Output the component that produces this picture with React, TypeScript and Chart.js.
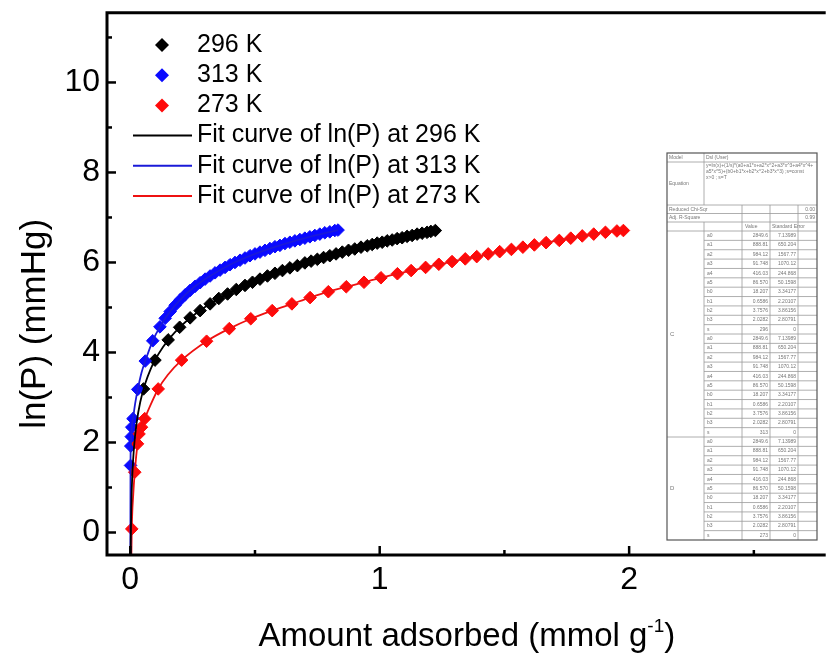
import React, { useEffect, useRef } from "react";
import { Chart, registerables } from "chart.js";
Chart.register(...registerables);

const FONT = "'Liberation Sans', Arial, Helvetica, sans-serif";

// ---- data: 296 K ----
const x296 = [0.053, 0.099, 0.152, 0.198, 0.24, 0.28, 0.32, 0.355, 0.39, 0.425, 0.46, 0.49, 0.52, 0.55, 0.58, 0.61, 0.64, 0.67, 0.70, 0.725, 0.75, 0.775, 0.80, 0.825, 0.85, 0.875, 0.90, 0.925, 0.95, 0.97, 0.99, 1.01, 1.03, 1.05, 1.07, 1.09, 1.11, 1.13, 1.15, 1.17, 1.19, 1.205, 1.223];
const y296 = [3.19, 3.83, 4.28, 4.56, 4.77, 4.93, 5.08, 5.20, 5.30, 5.40, 5.49, 5.56, 5.63, 5.70, 5.76, 5.82, 5.88, 5.93, 5.99, 6.03, 6.07, 6.11, 6.15, 6.19, 6.23, 6.27, 6.30, 6.34, 6.37, 6.40, 6.43, 6.45, 6.48, 6.50, 6.53, 6.55, 6.58, 6.60, 6.63, 6.65, 6.67, 6.69, 6.71];
// ---- data: 313 K ----
const x313 = [0.001, 0.002, 0.004, 0.006, 0.011, 0.03, 0.06, 0.09, 0.119, 0.14, 0.16, 0.18, 0.20, 0.22, 0.24, 0.26, 0.28, 0.30, 0.32, 0.34, 0.36, 0.38, 0.40, 0.42, 0.44, 0.46, 0.48, 0.50, 0.52, 0.54, 0.56, 0.58, 0.60, 0.62, 0.64, 0.66, 0.68, 0.70, 0.72, 0.74, 0.76, 0.78, 0.80, 0.82, 0.833];
const y313 = [1.49, 1.92, 2.13, 2.34, 2.53, 3.18, 3.81, 4.26, 4.57, 4.76, 4.91, 5.05, 5.17, 5.28, 5.38, 5.47, 5.55, 5.63, 5.70, 5.77, 5.83, 5.89, 5.95, 6.00, 6.05, 6.10, 6.15, 6.19, 6.23, 6.27, 6.31, 6.35, 6.38, 6.42, 6.45, 6.48, 6.51, 6.54, 6.57, 6.60, 6.63, 6.66, 6.68, 6.71, 6.72];
// ---- data: 273 K ----
const x273 = [0.006, 0.018, 0.029, 0.035, 0.045, 0.058, 0.112, 0.206, 0.306, 0.397, 0.483, 0.569, 0.648, 0.721, 0.794, 0.866, 0.937, 1.005, 1.071, 1.126, 1.184, 1.237, 1.29, 1.343, 1.389, 1.435, 1.481, 1.528, 1.574, 1.62, 1.667, 1.72, 1.766, 1.812, 1.858, 1.905, 1.951, 1.977];
const y273 = [0.08, 1.34, 1.97, 2.19, 2.34, 2.53, 3.19, 3.83, 4.25, 4.53, 4.75, 4.93, 5.08, 5.22, 5.35, 5.46, 5.56, 5.66, 5.75, 5.82, 5.89, 5.96, 6.02, 6.08, 6.13, 6.19, 6.24, 6.29, 6.34, 6.39, 6.44, 6.49, 6.54, 6.59, 6.63, 6.67, 6.70, 6.71];

// ---- fit curves ----
const fitX296 = [0.0012, 0.002, 0.004, 0.008, 0.015, 0.025, 0.04, 0.06, 0.08, 0.1, 0.13, 0.16, 0.2, 0.25, 0.3, 0.4, 0.5, 0.6, 0.7, 0.8, 0.9, 1.0, 1.1, 1.223];
const fitY296 = [-0.65, -0.14, 0.56, 1.26, 1.90, 2.42, 2.90, 3.31, 3.61, 3.84, 4.11, 4.33, 4.57, 4.81, 5.01, 5.33, 5.59, 5.80, 5.99, 6.15, 6.30, 6.44, 6.57, 6.71];
const fitX313 = [0.0004, 0.001, 0.002, 0.004, 0.006, 0.011, 0.02, 0.03, 0.045, 0.06, 0.09, 0.12, 0.16, 0.2, 0.26, 0.32, 0.4, 0.5, 0.6, 0.7, 0.833];
const fitY313 = [-0.7, 1.49, 1.92, 2.13, 2.34, 2.53, 2.88, 3.18, 3.55, 3.81, 4.26, 4.58, 4.91, 5.17, 5.47, 5.70, 5.95, 6.19, 6.38, 6.54, 6.72];
const fitX273 = [0.004, 0.006, 0.012, 0.018, 0.029, 0.035, 0.045, 0.058, 0.08, 0.112, 0.15, 0.206, 0.306, 0.397, 0.483, 0.569, 0.648, 0.721, 0.794, 0.866, 0.937, 1.005, 1.071, 1.184, 1.29, 1.389, 1.481, 1.574, 1.667, 1.766, 1.858, 1.951, 1.977];
const fitY273 = [-0.7, 0.08, 0.85, 1.34, 1.97, 2.19, 2.34, 2.53, 2.82, 3.19, 3.50, 3.83, 4.25, 4.53, 4.75, 4.93, 5.08, 5.22, 5.35, 5.46, 5.56, 5.66, 5.75, 5.89, 6.02, 6.13, 6.24, 6.34, 6.44, 6.54, 6.63, 6.70, 6.71];

const seriesLabels = ["296 K", "313 K", "273 K"];
const fitLabels = ["Fit curve of ln(P) at 296 K", "Fit curve of ln(P) at 313 K", "Fit curve of ln(P) at 273 K"];
const seriesColors = ["#000000", "#0a0aff", "#ff0a0a"];
const fitColors = ["#000000", "#1a1ad8", "#ee1111"];

const xTickValues = [0, 1, 2];
const xTickLabels = ["0", "1", "2"];
const xMinorTicks = [0.5, 1.5, 2.5];
const yTickValues = [0, 2, 4, 6, 8, 10];
const yTickLabels = ["0", "2", "4", "6", "8", "10"];
const yMinorTicks = [1, 3, 5, 7, 9, 11];

const xTitleMain = "Amount adsorbed (mmol g";
const xTitleSup = "-1";
const xTitleEnd = ")";
const yTitle = "ln(P) (mmHg)";

// ---- inset fit report table ----
const tableModel = ["Model", "Dsl (User)"];
const tableEquationLabel = "Equation";
const tableEquation = [
  "y=ln(x)+(1/s)*(a0+a1*x+a2*x^2+a3*x^3+a4*x^4+",
  "a5*x^5)+(b0+b1*x+b2*x^2+b3*x^3) ;s=const",
  "x>0 ; s=T",
];
const tableStatLabels = ["Reduced Chi-Sqr", "Adj. R-Square"];
const tableStatValues = ["0.00", "0.99"];
const tableColHeaders = ["Value", "Standard Error"];
const paramNames = ["a0", "a1", "a2", "a3", "a4", "a5", "b0", "b1", "b2", "b3", "s"];
const paramValues = ["2849.6", "888.81", "984.12", "91.748", "416.03", "86.570", "18.207", "0.6586", "3.7576", "2.0282"];
const paramErrors = ["7.13989", "650.204", "1567.77", "1070.12", "244.868", "50.1598", "3.34177", "2.20107", "3.86156", "2.80791", "0"];
const groupTemps = ["296", "313", "273"];
const groupLabels = ["C", "D"];

const zip = (xs: number[], ys: number[]) => xs.map((x, i) => ({ x, y: ys[i] }));

function diamond(ctx: CanvasRenderingContext2D, cx: number, cy: number, r: number) {
  ctx.beginPath();
  ctx.moveTo(cx - r, cy);
  ctx.lineTo(cx, cy - r);
  ctx.lineTo(cx + r, cy);
  ctx.lineTo(cx, cy + r);
  ctx.closePath();
  ctx.fill();
}

function drawTable(ctx: CanvasRenderingContext2D) {
  const L = 667, T = 153, R = 817, B = 540;
  const c1 = 704, c2 = 742, c3 = 770, c4 = 798;
  const rEq = 162, rStat1 = 205, rStat2 = 213.5, rHead = 222, rData = 231;
  ctx.save();
  ctx.fillStyle = "#ffffff";
  ctx.fillRect(L, T, R - L, B - T);
  ctx.strokeStyle = "#9a9a9a";
  ctx.lineWidth = 0.8;
  const hl = (x1: number, x2: number, y: number) => { ctx.beginPath(); ctx.moveTo(x1, y); ctx.lineTo(x2, y); ctx.stroke(); };
  const vl = (x: number, y1: number, y2: number) => { ctx.beginPath(); ctx.moveTo(x, y1); ctx.lineTo(x, y2); ctx.stroke(); };
  hl(L, R, rEq); hl(L, R, rStat1); hl(L, R, rStat2); hl(L, R, rHead); hl(L, R, rData);
  vl(c1, T, rStat1); vl(c1, rHead, B);
  vl(c2, rStat1, B); vl(c3, rStat1, B); vl(c4, rStat1, B);
  const nRows = paramNames.length * groupTemps.length;
  const rh = (B - rData) / nRows;
  for (let i = 1; i < nRows; i++) {
    const y = rData + i * rh;
    if (i === paramNames.length * 2) hl(L, R, y); else hl(c1, R, y);
  }
  ctx.strokeStyle = "#555";
  ctx.lineWidth = 1.2;
  ctx.strokeRect(L, T, R - L, B - T);

  ctx.fillStyle = "#777";
  ctx.font = `5px ${FONT}`;
  ctx.textBaseline = "middle";
  ctx.textAlign = "left";
  ctx.fillText(tableModel[0], L + 2, (T + rEq) / 2);
  ctx.fillText(tableModel[1], c1 + 2, (T + rEq) / 2);
  ctx.fillText(tableEquationLabel, L + 2, (rEq + rStat1) / 2);
  tableEquation.forEach((s, i) => ctx.fillText(s, c1 + 2, rEq + 4 + i * 6, R - c1 - 4));
  tableStatLabels.forEach((s, i) => {
    const y = i === 0 ? (rStat1 + rStat2) / 2 : (rStat2 + rHead) / 2;
    ctx.textAlign = "left";
    ctx.fillText(s, L + 2, y);
    ctx.textAlign = "right";
    ctx.fillText(tableStatValues[i], R - 2, y);
  });
  ctx.textAlign = "left";
  ctx.fillText(tableColHeaders[0], c2 + 3, (rHead + rData) / 2);
  ctx.fillText(tableColHeaders[1], c3 + 2, (rHead + rData) / 2);
  groupTemps.forEach((temp, g) => {
    paramNames.forEach((p, k) => {
      const row = g * paramNames.length + k;
      const y = rData + (row + 0.5) * rh;
      ctx.textAlign = "left";
      ctx.fillText(p, c1 + 3, y);
      ctx.textAlign = "right";
      ctx.fillText(k < paramValues.length ? paramValues[k] : temp, c3 - 2, y);
      ctx.fillText(paramErrors[k], c4 - 2, y);
    });
  });
  ctx.textAlign = "left";
  ctx.font = `6px ${FONT}`;
  ctx.fillText(groupLabels[0], L + 3, rData + paramNames.length * rh);
  ctx.fillText(groupLabels[1], L + 3, rData + paramNames.length * 2.5 * rh);
  ctx.restore();
}

const decorPlugin = {
  id: "decor",
  afterDraw(chart: any) {
    const { ctx, chartArea: ca, scales } = chart;
    const xs = scales.x, ys = scales.y;
    ctx.save();
    // frame
    ctx.strokeStyle = "#000";
    ctx.lineWidth = 3;
    ctx.beginPath();
    ctx.moveTo(ca.right + 5, ca.top);
    ctx.lineTo(ca.left, ca.top);
    ctx.lineTo(ca.left, ca.bottom);
    ctx.lineTo(ca.right + 5, ca.bottom);
    ctx.stroke();
    // inward ticks
    ctx.lineWidth = 2.5;
    const tick = (x1: number, y1: number, x2: number, y2: number) => { ctx.beginPath(); ctx.moveTo(x1, y1); ctx.lineTo(x2, y2); ctx.stroke(); };
    xTickValues.forEach(v => { const p = xs.getPixelForValue(v); tick(p, ca.bottom, p, ca.bottom - 9); });
    xMinorTicks.forEach(v => { const p = xs.getPixelForValue(v); tick(p, ca.bottom, p, ca.bottom - 5); });
    yTickValues.forEach(v => { const p = ys.getPixelForValue(v); tick(ca.left, p, ca.left + 9, p); });
    yMinorTicks.forEach(v => { const p = ys.getPixelForValue(v); tick(ca.left, p, ca.left + 5, p); });

    // axis titles
    ctx.fillStyle = "#000";
    ctx.font = `33px ${FONT}`;
    ctx.textBaseline = "alphabetic";
    ctx.textAlign = "left";
    const wMain = ctx.measureText(xTitleMain).width;
    ctx.font = `19px ${FONT}`;
    const wSup = ctx.measureText(xTitleSup).width;
    ctx.font = `33px ${FONT}`;
    const wEnd = ctx.measureText(xTitleEnd).width;
    const total = wMain + wSup + wEnd;
    const cx = (ca.left + ca.right) / 2 + 3;
    let x0 = cx - total / 2;
    const base = 646;
    ctx.fillText(xTitleMain, x0, base);
    ctx.font = `19px ${FONT}`;
    ctx.fillText(xTitleSup, x0 + wMain, base - 14);
    ctx.font = `33px ${FONT}`;
    ctx.fillText(xTitleEnd, x0 + wMain + wSup, base);

    ctx.save();
    ctx.translate(35, (ca.top + ca.bottom) / 2 + 40);
    ctx.rotate(-Math.PI / 2);
    ctx.font = `35px ${FONT}`;
    ctx.textAlign = "center";
    ctx.textBaseline = "middle";
    ctx.fillText(yTitle, 0, 0);
    ctx.restore();

    // legend
    ctx.font = `25px ${FONT}`;
    ctx.textAlign = "left";
    ctx.textBaseline = "middle";
    const legTop = 45, legStep = 30.2;
    seriesLabels.forEach((lab, i) => {
      const y = legTop + i * legStep;
      ctx.fillStyle = seriesColors[i];
      diamond(ctx, 162, y, 7);
      ctx.fillStyle = "#000";
      ctx.fillText(lab, 197, y);
    });
    fitLabels.forEach((lab, i) => {
      const y = legTop + (i + 3) * legStep;
      ctx.strokeStyle = fitColors[i];
      ctx.lineWidth = 2;
      tick(133, y, 192, y);
      ctx.fillStyle = "#000";
      ctx.fillText(lab, 197, y);
    });
    ctx.restore();

    drawTable(ctx);
  },
};

export default function App() {
  const ref = useRef<HTMLCanvasElement | null>(null);
  useEffect(() => {
    if (!ref.current) return;
    const pointDs = (i: number, xs: number[], ys: number[], order: number) => ({
      label: seriesLabels[i],
      data: zip(xs, ys),
      showLine: false,
      pointStyle: "rectRot",
      pointRadius: 6.3,
      pointBorderWidth: 1,
      backgroundColor: seriesColors[i],
      borderColor: seriesColors[i],
      order,
    });
    const fitDs = (i: number, xs: number[], ys: number[]) => ({
      label: fitLabels[i],
      data: zip(xs, ys),
      showLine: true,
      pointRadius: 0,
      borderWidth: 1.8,
      borderColor: fitColors[i],
      backgroundColor: fitColors[i],
      cubicInterpolationMode: "monotone",
      order: 0,
    });
    const chart = new Chart(ref.current, {
      type: "scatter",
      data: {
        datasets: [
          pointDs(0, x296, y296, 3),
          pointDs(1, x313, y313, 2),
          pointDs(2, x273, y273, 1),
          fitDs(0, fitX296, fitY296),
          fitDs(1, fitX313, fitY313),
          fitDs(2, fitX273, fitY273),
        ] as any,
      },
      options: {
        animation: false,
        responsive: false,
        events: [],
        layout: { padding: { top: 12.7, left: 0, right: 0, bottom: 0 } },
        plugins: { legend: { display: false }, tooltip: { enabled: false } },
        scales: {
          x: {
            type: "linear",
            min: -0.0933,
            max: 2.768,
            grid: { display: false, drawTicks: false },
            border: { display: false },
            ticks: {
              includeBounds: false,
              color: "#000",
              font: { family: FONT, size: 32 },
              padding: 6,
              callback: (v: any) => { const i = xTickValues.indexOf(Number(v)); return i >= 0 ? xTickLabels[i] : ""; },
            },
            afterBuildTicks: (s: any) => { s.ticks = xTickValues.map(v => ({ value: v })); },
            afterFit: (s: any) => { s.height = 100; s.paddingLeft = 0; s.paddingRight = 0; },
          },
          y: {
            type: "linear",
            min: -0.5,
            max: 11.55,
            grid: { display: false, drawTicks: false },
            border: { display: false },
            ticks: {
              includeBounds: false,
              color: "#000",
              font: { family: FONT, size: 32 },
              padding: 7,
              callback: (v: any) => { const i = yTickValues.indexOf(Number(v)); return i >= 0 ? yTickLabels[i] : ""; },
            },
            afterBuildTicks: (s: any) => { s.ticks = yTickValues.map(v => ({ value: v })); },
            afterFit: (s: any) => { s.width = 107; s.paddingTop = 0; s.paddingBottom = 0; },
          },
        },
      } as any,
      plugins: [decorPlugin],
    });
    return () => chart.destroy();
  }, []);
  return (
    <div style={{ position: "fixed", left: 0, top: 0, width: 828, height: 655, background: "#fff" }}>
      <canvas ref={ref} width={828} height={655} style={{ display: "block" }} />
    </div>
  );
}
